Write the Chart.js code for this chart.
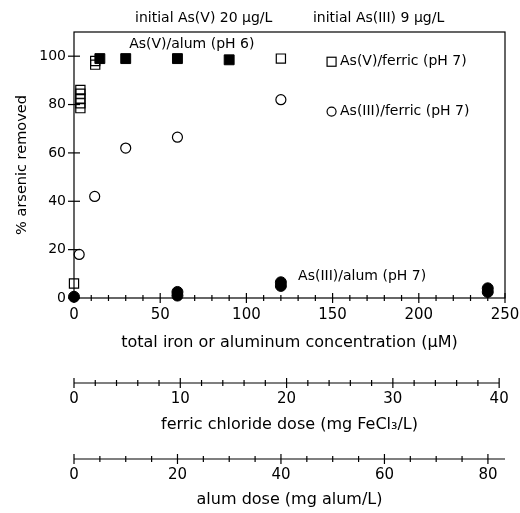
<!DOCTYPE html>
<html>
<head>
<meta charset="utf-8">
<script src="https://cdn.jsdelivr.net/npm/chart.js@4.4.0/dist/chart.umd.min.js"></script>
<style>
  html, body { margin: 0; padding: 0; background: #fff; }
  #wrap { width: 520px; height: 513px; }
</style>
</head>
<body>
<div id="wrap"><canvas id="chart" width="520" height="513"></canvas></div>
<script>
// As(V) / ferric, pH 7 (open squares)
const asVFerricX = [0, 3.7, 3.7, 3.7, 3.7, 3.7, 12.3, 12.3, 120];
const asVFerricY = [6, 78.5, 80.5, 82.5, 84.5, 86, 96.5, 98, 99];
// As(V) / alum, pH 6 (filled squares)
const asVAlumX = [15, 30, 60, 90];
const asVAlumY = [99, 99, 99, 98.5];
// As(III) / ferric, pH 7 (open circles)
const asIIIFerricX = [3, 12, 30, 60, 120];
const asIIIFerricY = [18, 42, 62, 66.5, 82];
// As(III) / alum, pH 7 (filled circles)
const asIIIAlumX = [0, 60, 60, 120, 120, 240, 240];
const asIIIAlumY = [0.5, 1, 2.5, 5, 6.5, 2.5, 4];

// axis ranges: total metal (uM), FeCl3 dose (mg/L), alum dose (mg/L)
const concMax = 250;
const ferricMax = 40.55;
const alumMax = 83.3;
const yMax = 110;

const labels = {
  asVAlum: 'As(V)/alum (pH 6)',
  asIIIAlum: 'As(III)/alum (pH 7)',
  asVFerric: 'As(V)/ferric (pH 7)',
  asIIIFerric: 'As(III)/ferric (pH 7)',
  initV: 'initial As(V) 20 µg/L',
  initIII: 'initial As(III) 9 µg/L'
};

const FONT_FAMILY = '"DejaVu Sans", sans-serif';
const majorStep = { x: 50, y: 20, x2: 10, x3: 20 };

function pts(xs, ys) {
  return xs.map((x, i) => ({ x: x, y: ys[i] }));
}

function isMajor(v, step) {
  return Math.abs(v / step - Math.round(v / step)) < 1e-6;
}

// tick marks across the axes, box, and the text notes
const axesPlugin = {
  id: 'axes',
  beforeDatasetsDraw(chart) {
    const ctx = chart.ctx;
    const a = chart.chartArea;
    const line = (x1, y1, x2, y2) => {
      ctx.beginPath();
      ctx.moveTo(x1, y1);
      ctx.lineTo(x2, y2);
      ctx.stroke();
    };
    ctx.save();
    ctx.strokeStyle = '#000';
    ctx.lineWidth = 1.2;
    ctx.strokeRect(a.left, a.top, a.right - a.left, a.bottom - a.top);

    ['x', 'x2', 'x3'].forEach(id => {
      const s = chart.scales[id];
      const y0 = s.top;
      const xEnd = id === 'x2' ? s.getPixelForValue(40) : s.right;
      if (id !== 'x') line(s.left, y0, xEnd, y0);
      s.ticks.forEach(t => {
        const px = s.getPixelForValue(t.value);
        const d = isMajor(t.value, majorStep[id]) ? 5 : 3;
        line(px, y0 - d, px, y0 + d);
      });
    });

    const ys = chart.scales.y;
    ys.ticks.forEach(t => {
      const py = ys.getPixelForValue(t.value);
      line(a.left - 6, py, a.left + 6, py);
    });
    ctx.restore();
  },
  afterDraw(chart) {
    const ctx = chart.ctx;
    const xs = chart.scales.x;
    const ys = chart.scales.y;
    const px = v => xs.getPixelForValue(v);
    const py = v => ys.getPixelForValue(v);
    ctx.save();
    ctx.fillStyle = '#000';
    ctx.strokeStyle = '#000';
    ctx.lineWidth = 1.2;
    ctx.font = '14px ' + FONT_FAMILY;
    ctx.textBaseline = 'middle';
    ctx.textAlign = 'left';

    ctx.fillText(labels.initV, px(35.4), py(115.5));
    ctx.fillText(labels.initIII, px(138.6), py(115.5));
    ctx.fillText(labels.asVAlum, px(32), py(104.7));
    ctx.fillText(labels.asIIIAlum, px(130), py(9.1));

    // key symbols
    const kx = px(149.4);
    ctx.strokeRect(kx - 4.5, py(97.7) - 4.5, 9, 9);
    ctx.beginPath();
    ctx.arc(kx, py(77.1), 4.5, 0, Math.PI * 2);
    ctx.stroke();
    ctx.fillText(labels.asVFerric, px(154.3), py(97.7));
    ctx.fillText(labels.asIIIFerric, px(154.3), py(77.1));
    ctx.restore();
  }
};

function bottomAxis(min, max, step, labelPad, titleText, titleBottom, height) {
  return {
    type: 'linear',
    position: 'bottom',
    min: min,
    max: max,
    grid: { display: false, drawTicks: false },
    border: { display: false },
    ticks: {
      stepSize: step,
      includeBounds: false,
      autoSkip: false,
      maxRotation: 0,
      padding: labelPad,
      color: '#000',
      font: { family: FONT_FAMILY, size: 15 }
    },
    title: {
      display: true,
      text: titleText,
      color: '#000',
      font: { family: FONT_FAMILY, size: 16 },
      padding: { top: 0, bottom: titleBottom }
    },
    afterFit(scale) {
      scale.height = height;
      scale.paddingLeft = 0;
      scale.paddingRight = 0;
    }
  };
}

const xMain = bottomAxis(0, concMax, 10, 8, 'total iron or aluminum concentration (µM)', 30.4, 85);
xMain.ticks.callback = v => isMajor(v, majorStep.x) ? v : '';
const xFerric = bottomAxis(0, ferricMax, 2, 7, 'ferric chloride dose (mg FeCl₃/L)', 24.4, 76);
xFerric.ticks.callback = v => isMajor(v, majorStep.x2) ? Math.round(v) : '';
const xAlum = bottomAxis(0, alumMax, 5, 7, 'alum dose (mg alum/L)', 3.4, 54);
xAlum.ticks.callback = v => isMajor(v, majorStep.x3) ? Math.round(v) : '';

const chart = new Chart(document.getElementById('chart'), {
  type: 'scatter',
  data: {
    datasets: [
      {
        label: labels.asVAlum,
        data: pts(asVAlumX, asVAlumY),
        pointStyle: 'rect',
        pointRadius: 7,
        pointBackgroundColor: '#000',
        pointBorderColor: '#000',
        pointBorderWidth: 1
      },
      {
        label: labels.asIIIAlum,
        data: pts(asIIIAlumX, asIIIAlumY),
        pointStyle: 'circle',
        pointRadius: 5.5,
        pointBackgroundColor: '#000',
        pointBorderColor: '#000',
        pointBorderWidth: 1
      },
      {
        label: labels.asVFerric,
        data: pts(asVFerricX, asVFerricY),
        pointStyle: 'rect',
        pointRadius: 6.5,
        pointBackgroundColor: 'rgba(0,0,0,0)',
        pointBorderColor: '#000',
        pointBorderWidth: 1.2
      },
      {
        label: labels.asIIIFerric,
        data: pts(asIIIFerricX, asIIIFerricY),
        pointStyle: 'circle',
        pointRadius: 5,
        pointBackgroundColor: 'rgba(0,0,0,0)',
        pointBorderColor: '#000',
        pointBorderWidth: 1.2
      }
    ]
  },
  options: {
    responsive: false,
    devicePixelRatio: 1,
    animation: false,
    clip: false,
    layout: { padding: { top: 32, right: 15, bottom: 0, left: 0 } },
    plugins: {
      legend: { display: false },
      tooltip: { enabled: false },
      title: { display: false }
    },
    scales: {
      x: xMain,
      x2: xFerric,
      x3: xAlum,
      y: {
        type: 'linear',
        position: 'left',
        min: 0,
        max: yMax,
        grid: { display: false, drawTicks: false },
        border: { display: false },
        ticks: {
          stepSize: 20,
          includeBounds: false,
          padding: 8,
          color: '#000',
          font: { family: FONT_FAMILY, size: 14 }
        },
        title: {
          display: true,
          text: '% arsenic removed',
          color: '#000',
          font: { family: FONT_FAMILY, size: 14.5 },
          padding: { top: 14, bottom: 0 }
        },
        afterFit(scale) {
          scale.width = 74;
          scale.paddingTop = 0;
          scale.paddingBottom = 0;
        }
      }
    }
  },
  plugins: [axesPlugin]
});
</script>
</body>
</html>
